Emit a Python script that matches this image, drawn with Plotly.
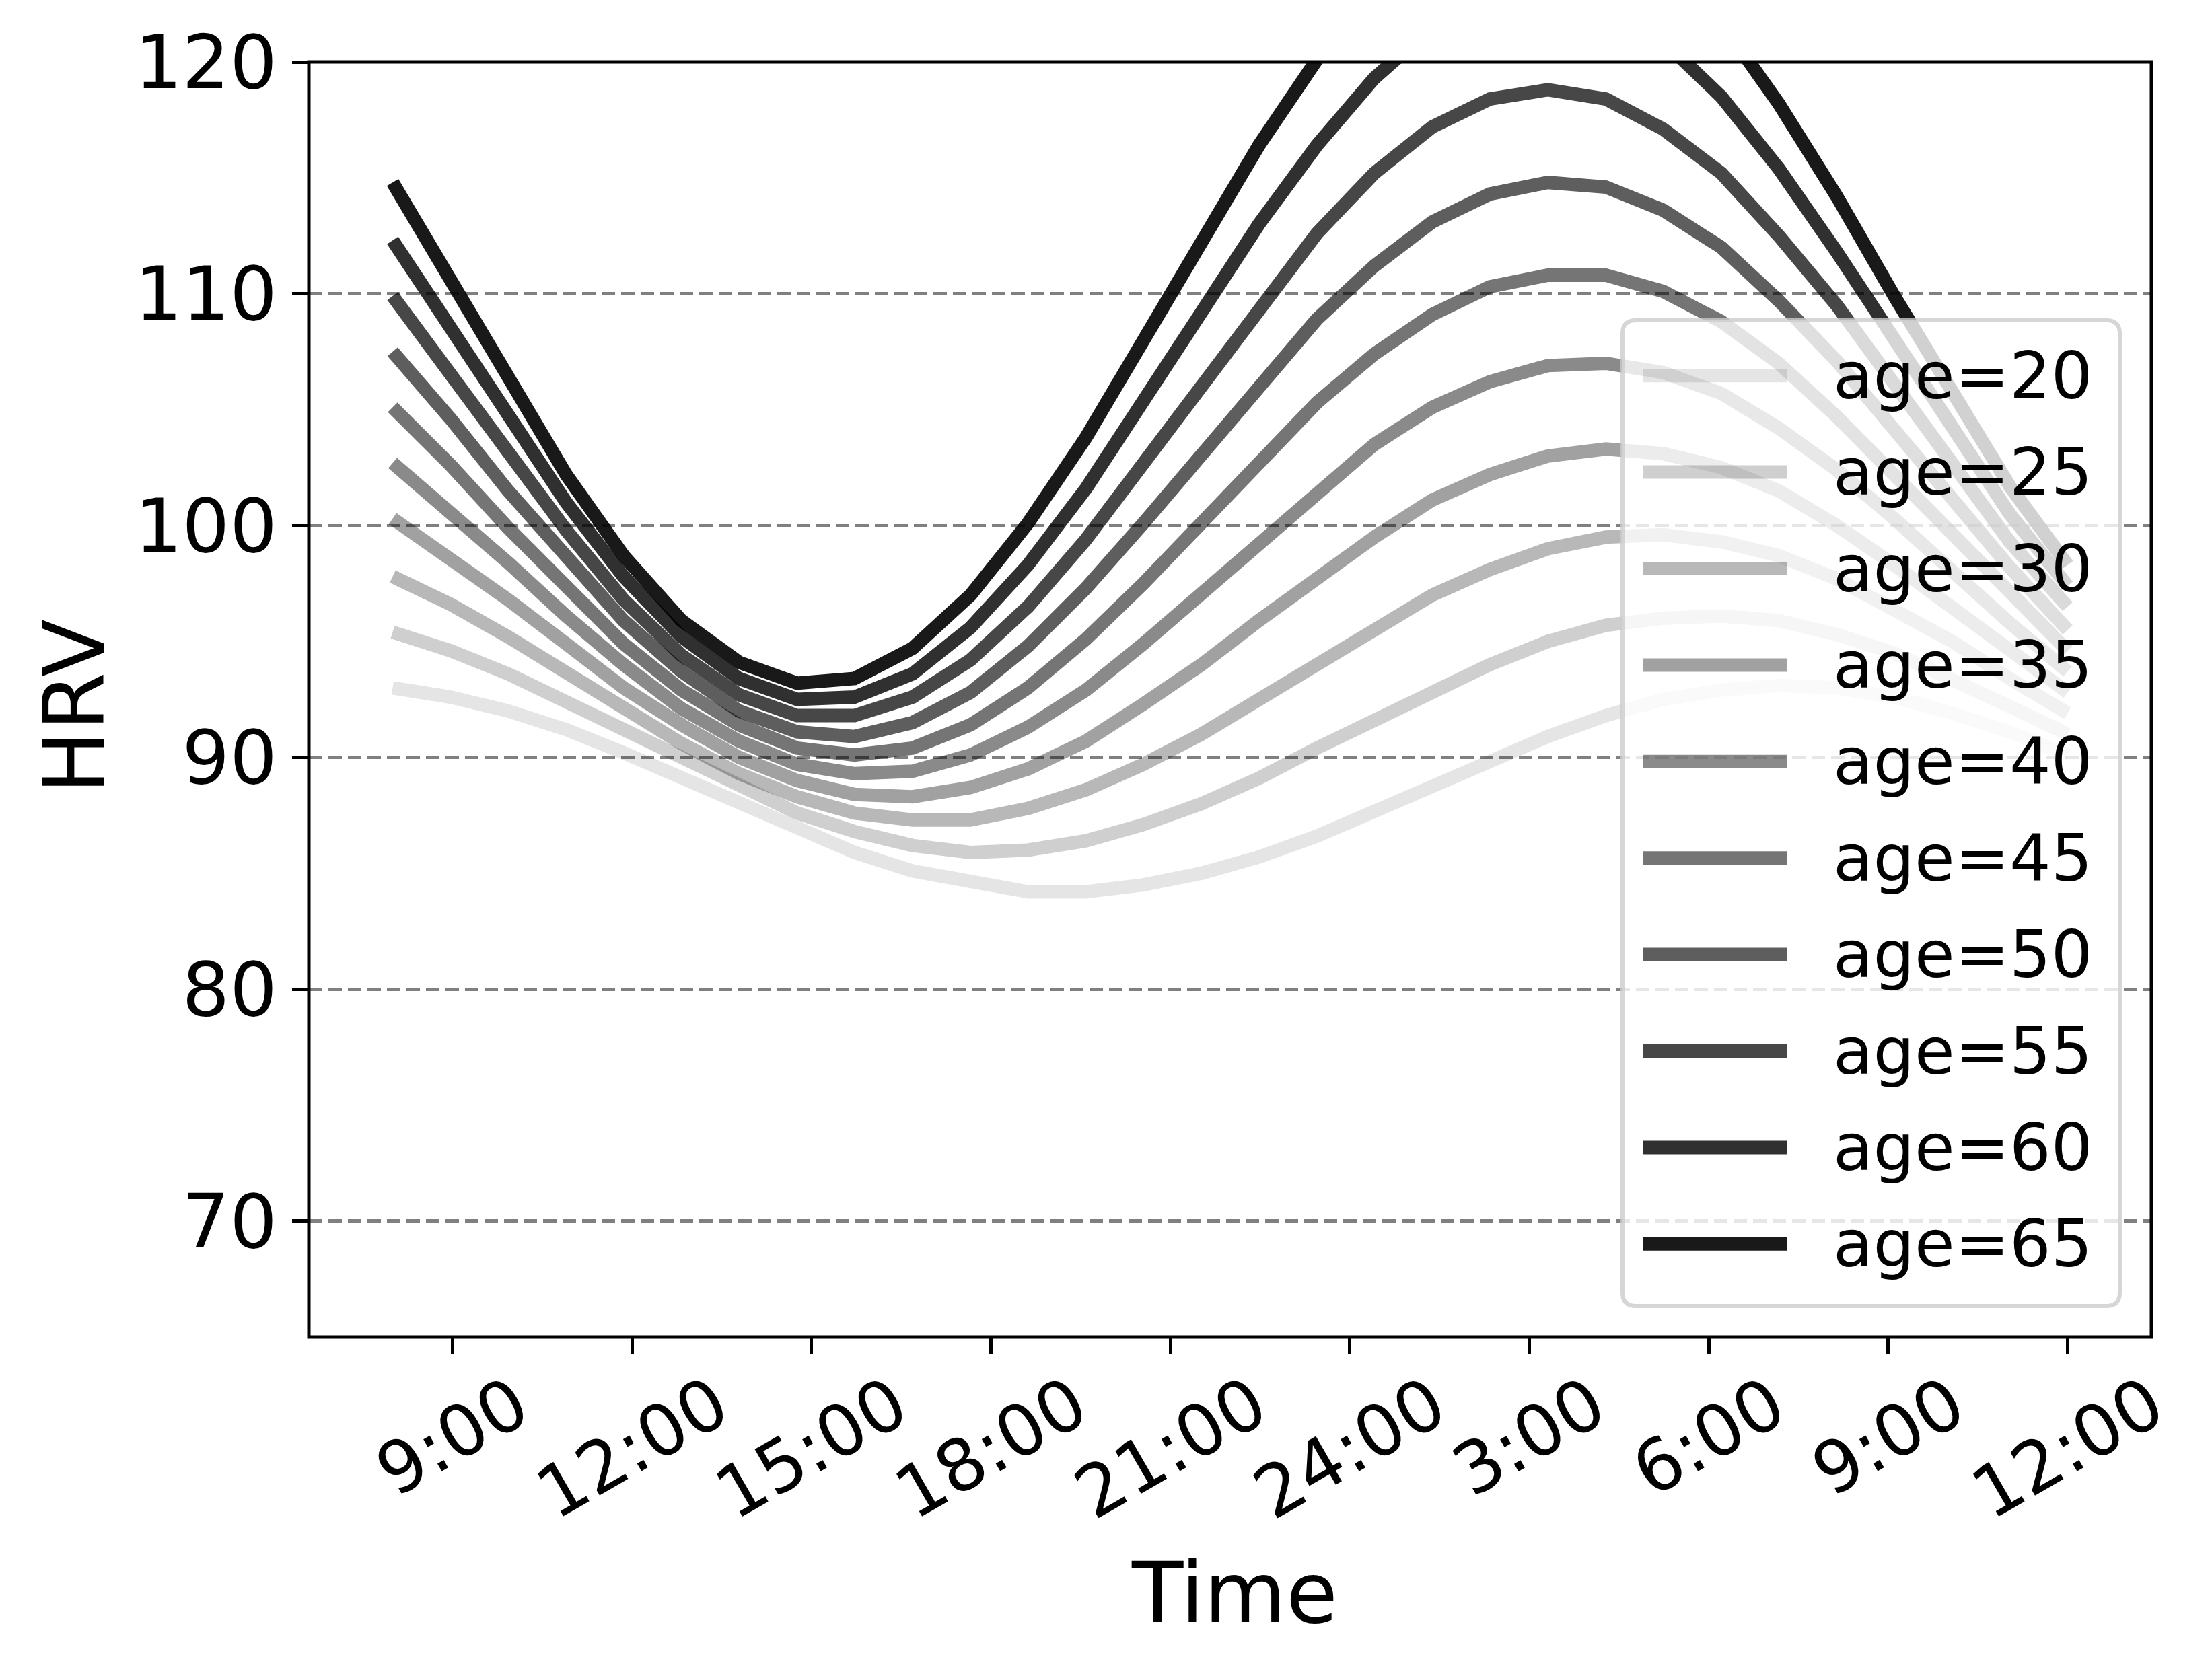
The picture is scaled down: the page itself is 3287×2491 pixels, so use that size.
import plotly.graph_objects as go

# ---------------- data ----------------
hours = [8.0, 8.97, 9.93, 10.9, 11.86, 12.83, 13.79, 14.76, 15.72, 16.69,
         17.66, 18.62, 19.59, 20.55, 21.52, 22.48, 23.45, 24.41, 25.38, 26.34,
         27.31, 28.28, 29.24, 30.21, 31.17, 32.14, 33.1, 34.07, 35.03, 36.0]

tick_hours = [9, 12, 15, 18, 21, 24, 27, 30, 33, 36]
tick_labels = ["9:00", "12:00", "15:00", "18:00", "21:00", "24:00",
               "3:00", "6:00", "9:00", "12:00"]

ages = [20, 25, 30, 35, 40, 45, 50, 55, 60, 65]

hrv_age20 = [93.0, 92.6, 92.0, 91.2, 90.2, 89.1, 88.0, 86.9, 85.9, 85.1, 84.6, 84.2, 84.2, 84.5, 85.0,
             85.7, 86.6, 87.7, 88.8, 89.9, 90.9, 91.8, 92.5, 92.9, 93.1, 93.0, 92.6, 91.9, 91.1, 90.1]
hrv_age25 = [95.4, 94.6, 93.6, 92.4, 91.1, 89.9, 88.7, 87.6, 86.8, 86.2, 85.9, 86.0, 86.4, 87.1, 88.0,
             89.1, 90.4, 91.6, 92.9, 94.0, 95.0, 95.7, 96.0, 96.1, 95.9, 95.3, 94.5, 93.4, 92.2, 91.0]
hrv_age30 = [97.8, 96.6, 95.2, 93.7, 92.1, 90.6, 89.3, 88.3, 87.6, 87.3, 87.3, 87.8, 88.6, 89.7, 91.0,
             92.5, 94.1, 95.6, 97.0, 98.1, 99.0, 99.5, 99.6, 99.3, 98.7, 97.7, 96.4, 95.0, 93.4, 91.9]
hrv_age35 = [100.3, 98.6, 96.8, 94.9, 93.0, 91.4, 90.0, 89.0, 88.4, 88.3, 88.7, 89.5, 90.7, 92.3, 94.0,
             95.9, 97.8, 99.5, 101.1, 102.2, 103.0, 103.3, 103.1, 102.5, 101.5, 100.0, 98.3, 96.5, 94.6, 92.8]
hrv_age40 = [102.7, 100.6, 98.4, 96.1, 94.0, 92.1, 90.7, 89.7, 89.3, 89.4, 90.1, 91.3, 92.9, 94.9, 97.1,
             99.3, 101.5, 103.5, 105.1, 106.2, 106.9, 107.0, 106.6, 105.7, 104.2, 102.4, 100.3, 98.0, 95.8, 93.7]
hrv_age45 = [105.1, 102.6, 99.9, 97.3, 94.9, 92.9, 91.4, 90.4, 90.1, 90.4, 91.4, 93.0, 95.1, 97.5, 100.1,
             102.7, 105.3, 107.4, 109.1, 110.3, 110.8, 110.8, 110.1, 108.8, 107.0, 104.7, 102.2, 99.6, 97.0, 94.6]
hrv_age50 = [107.5, 104.6, 101.5, 98.6, 95.9, 93.7, 92.0, 91.1, 90.9, 91.5, 92.8, 94.8, 97.3, 100.1, 103.1,
             106.1, 108.9, 111.2, 113.1, 114.3, 114.8, 114.6, 113.6, 112.0, 109.7, 107.1, 104.1, 101.1, 98.2, 95.5]
hrv_age55 = [109.9, 106.5, 103.1, 99.8, 96.8, 94.4, 92.7, 91.8, 91.8, 92.6, 94.2, 96.5, 99.4, 102.7, 106.2,
             109.5, 112.6, 115.2, 117.2, 118.4, 118.8, 118.4, 117.1, 115.2, 112.5, 109.5, 106.1, 102.6, 99.3, 96.5]
hrv_age60 = [112.3, 108.5, 104.7, 101.0, 97.8, 95.2, 93.4, 92.5, 92.6, 93.6, 95.6, 98.3, 101.6, 105.3, 109.2,
             113.0, 116.4, 119.3, 121.5, 122.8, 123.1, 122.5, 120.9, 118.5, 115.4, 111.8, 108.0, 104.1, 100.5, 97.4]
hrv_age65 = [114.8, 110.5, 106.3, 102.2, 98.7, 95.9, 94.1, 93.2, 93.4, 94.7, 97.0, 100.1, 103.8, 107.9, 112.2,
             116.4, 120.1, 123.3, 125.6, 126.9, 127.1, 126.3, 124.4, 121.7, 118.2, 114.2, 109.9, 105.7, 101.7, 98.3]

series = [hrv_age20, hrv_age25, hrv_age30, hrv_age35, hrv_age40,
          hrv_age45, hrv_age50, hrv_age55, hrv_age60, hrv_age65]

# ---------------- style ----------------
alphas = [0.1, 0.19, 0.28, 0.37, 0.46, 0.54, 0.63, 0.72, 0.81, 0.9]
FONT = "DejaVu Sans"
OFF = 8                                   # page body margin in the browser
W, H = 3287 - 2 * OFF, 2491 - 2 * OFF     # figure size (fits the window without scrollbars)
# plot area in page pixels
PL, PR, PT, PB = 459, 3197, 92, 1987
PW, PH = PR - PL, PB - PT


def px_x(px):
    return (px - PL) / PW


def px_y(py):
    return (PB - py) / PH


fig = go.Figure()
for age, vals, a in zip(ages, series, alphas):
    fig.add_trace(go.Scatter(
        x=hours, y=vals, mode="lines", name=f"age={age}",
        line=dict(color=f"rgba(0,0,0,{a})", width=20),
        showlegend=False,
    ))

shapes = []
annotations = []

# axes frame (spines centred on the plot-area edges)
shapes.append(dict(type="rect", xref="paper", yref="paper", x0=0, x1=1, y0=0, y1=1,
                   line=dict(color="black", width=5), fillcolor="rgba(0,0,0,0)",
                   layer="above"))

# legend frame (rounded rectangle, semi-transparent white)
x0, x1 = px_x(2411), px_x(3150)
y1, y0 = px_y(476), px_y(1941)
rx, ry = 20 / PW, 20 / PH
path = (f"M {x0+rx},{y1} L {x1-rx},{y1} Q {x1},{y1} {x1},{y1-ry} "
        f"L {x1},{y0+ry} Q {x1},{y0} {x1-rx},{y0} L {x0+rx},{y0} "
        f"Q {x0},{y0} {x0},{y0+ry} L {x0},{y1-ry} Q {x0},{y1} {x0+rx},{y1} Z")
shapes.append(dict(type="path", path=path, xref="paper", yref="paper",
                   fillcolor="rgba(255,255,255,0.8)",
                   line=dict(color="rgba(204,204,204,0.8)", width=6),
                   layer="above"))

item_top, item_step = 558.2, 143.4
for j, (age, a) in enumerate(zip(ages, alphas)):
    yc = px_y(item_top + j * item_step)
    shapes.append(dict(type="line", xref="paper", yref="paper",
                       x0=px_x(2441), x1=px_x(2656), y0=yc, y1=yc,
                       line=dict(color=f"rgba(0,0,0,{a})", width=20),
                       layer="above"))
    annotations.append(dict(text=f"age={age}", xref="paper", yref="paper",
                            x=px_x(2722), y=yc, xanchor="left", yanchor="middle",
                            showarrow=False, font=dict(family=FONT, size=97, color="black")))

# x tick labels (rotated, centred under each tick)
for hv, lab in zip(tick_hours, tick_labels):
    annotations.append(dict(text=lab, xref="x", yref="paper", x=hv, y=px_y(2020),
                            xanchor="center", yanchor="top", textangle=-30,
                            showarrow=False, font=dict(family=FONT, size=106, color="black")))

# axis titles
annotations.append(dict(text="Time", xref="paper", yref="paper", x=px_x(1834), y=px_y(2367),
                        xanchor="center", yanchor="middle", showarrow=False,
                        font=dict(family=FONT, size=125, color="black")))
annotations.append(dict(text="HRV", xref="paper", yref="paper", x=px_x(110), y=px_y(1050),
                        xanchor="center", yanchor="middle", textangle=-90, showarrow=False,
                        font=dict(family=FONT, size=125, color="black")))

fig.update_layout(
    width=W, height=H, autosize=False,
    margin=dict(l=PL - OFF, r=W - (PR - OFF), t=PT - OFF, b=H - (PB - OFF), pad=0),
    paper_bgcolor="white", plot_bgcolor="white",
    font=dict(family=FONT, color="black"),
    showlegend=False,
    shapes=shapes, annotations=annotations,
)
fig.update_xaxes(
    range=[6.6, 37.4], tickmode="array", tickvals=tick_hours, ticktext=tick_labels,
    showticklabels=False, ticks="outside", ticklen=24, tickwidth=5, tickcolor="black",
    showline=False, showgrid=False, zeroline=False,
)
fig.update_yaxes(
    range=[65, 120], tickmode="array", tickvals=[70, 80, 90, 100, 110, 120],
    ticks="outside", ticklen=24, tickwidth=5, tickcolor="black",
    tickfont=dict(family=FONT, size=111, color="black"),
    showline=False,
    showgrid=True, gridcolor="#808080", gridwidth=5, griddash="20px,9px",
    zeroline=False,
)

fig.write_html("out.html")
